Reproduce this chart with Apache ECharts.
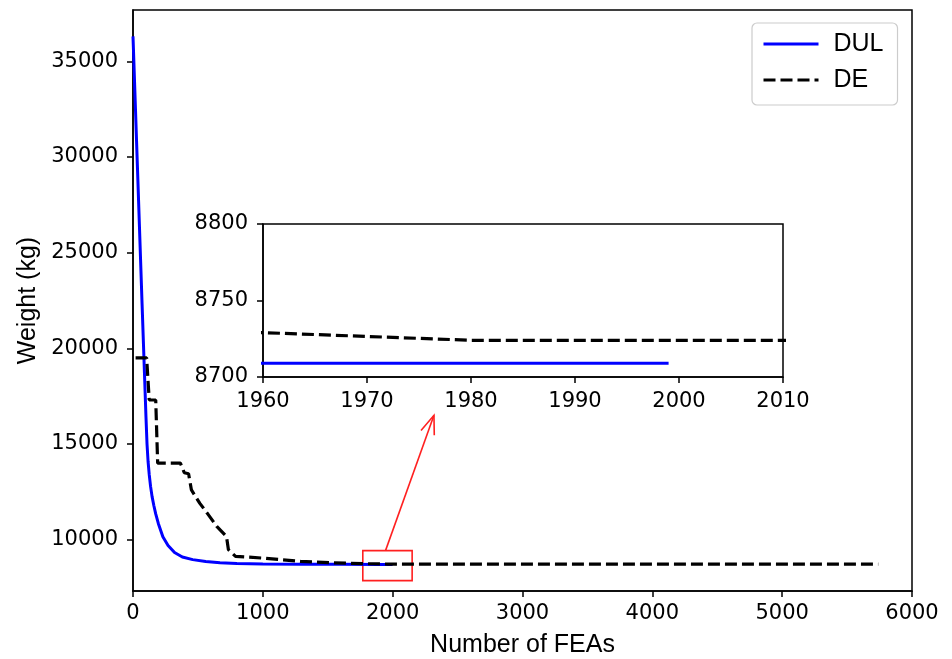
<!DOCTYPE html>
<html>
<head>
<meta charset="utf-8">
<script src="https://cdn.jsdelivr.net/npm/echarts@6/dist/echarts.min.js"></script>
<style>
  html, body { margin: 0; padding: 0; background: #fff; }
  #chart { width: 952px; height: 659px; }
</style>
</head>
<body>
<div id="chart"></div>
<script>
// Convergence history: best weight found vs. number of finite element analyses
const FEA_DUL = [0, 35, 70, 100, 108, 116, 125, 135, 147, 160, 175, 195, 230, 270, 320, 380, 460, 560, 670, 800, 1000, 1300, 1600, 1900, 1999];
const W_DUL   = [36300, 29300, 22300, 16400, 15000, 14100, 13400, 12800, 12250, 11800, 11350, 10850, 10150, 9700, 9330, 9100, 8960, 8860, 8800, 8760, 8730, 8718, 8712, 8709, 8709];

const FEA_DE = [20, 105, 125, 175, 190, 365, 395, 428, 450, 515, 570, 645, 720, 735, 790, 1000, 1290, 1540, 1800, 1960, 1970, 1980, 5740];
const W_DE   = [19500, 19500, 17300, 17300, 14000, 14000, 13500, 13450, 12600, 11900, 11400, 10700, 10170, 9480, 9130, 9040, 8870, 8790, 8745, 8729, 8726.5, 8724, 8724];

// Axis ranges and ticks
const X_RANGE = [0, 6000];
const Y_RANGE = [7320, 37680];
const Y_TICKS = [10000, 15000, 20000, 25000, 30000, 35000];
const INSET_X = [1960, 2010];
const INSET_Y = [8700, 8800];

// Zoomed window marker and the arrow pointing to the inset (data units)
const ZOOM_BOX_X = [1770, 2150];
const ZOOM_BOX_Y = [7860, 9430];
const ARROW_FROM = [1945, 9430];
const ARROW_TO   = [2318, 16500];

const pairs = (xs, ys) => xs.map((x, i) => [x, ys[i]]);
const plain = v => String(v);

const TICK_FONT = { fontFamily: 'DejaVu Sans', fontSize: 21, color: '#000', formatter: plain };
const NAME_FONT = { fontFamily: 'Liberation Sans', fontSize: 25, color: '#000' };
const AXIS_LINE = { show: true, onZero: false, lineStyle: { color: '#000', width: 1.5 } };
const AXIS_TICK = { show: true, inside: false, length: 6, lineStyle: { color: '#000', width: 1.5 } };

const chart = echarts.init(document.getElementById('chart'), null, { renderer: 'canvas' });

const option = {
  animation: false,
  backgroundColor: '#fff',
  grid: [
    { left: 133, top: 10, width: 779, height: 581, show: true, borderColor: '#000', borderWidth: 1.5, backgroundColor: '#fff', containLabel: false, outerBoundsMode: 'none' },
    { left: 263, top: 224, width: 520, height: 153, show: true, borderColor: '#000', borderWidth: 1.5, backgroundColor: '#fff', containLabel: false, outerBoundsMode: 'none', z: 5 }
  ],
  legend: {
    orient: 'vertical',
    left: 752, top: 23,
    padding: [7, 14, 11, 10],
    itemWidth: 55, itemHeight: 14, itemGap: 8,
    backgroundColor: 'rgba(255,255,255,0.8)',
    borderColor: '#cccccc', borderWidth: 1.2, borderRadius: 5,
    itemStyle: { opacity: 0 },
    lineStyle: { width: 3 },
    textStyle: Object.assign({ lineHeight: 28, padding: [0, 0, 0, 10] }, NAME_FONT),
    data: ['DUL', 'DE']
  },
  xAxis: [
    {
      gridIndex: 0, type: 'value', min: X_RANGE[0], max: X_RANGE[1], interval: 1000,
      name: 'Number of FEAs', nameLocation: 'middle', nameGap: 42, nameTextStyle: NAME_FONT,
      axisLine: AXIS_LINE, axisTick: AXIS_TICK, splitLine: { show: false },
      axisLabel: Object.assign({ margin: 12 }, TICK_FONT)
    },
    {
      gridIndex: 1, type: 'value', min: INSET_X[0], max: INSET_X[1], interval: 10,
      axisLine: AXIS_LINE, axisTick: AXIS_TICK, splitLine: { show: false },
      axisLabel: Object.assign({ margin: 14 }, TICK_FONT), z: 6
    }
  ],
  yAxis: [
    {
      gridIndex: 0, type: 'value', min: Y_RANGE[0], max: Y_RANGE[1],
      name: 'Weight (kg)', nameLocation: 'middle', nameGap: 92, nameTextStyle: NAME_FONT,
      axisLine: AXIS_LINE,
      axisTick: Object.assign({ customValues: Y_TICKS }, AXIS_TICK),
      splitLine: { show: false },
      axisLabel: Object.assign({ margin: 15, customValues: Y_TICKS }, TICK_FONT)
    },
    {
      gridIndex: 1, type: 'value', min: INSET_Y[0], max: INSET_Y[1], interval: 50,
      axisLine: AXIS_LINE, axisTick: AXIS_TICK, splitLine: { show: false },
      axisLabel: Object.assign({ margin: 15 }, TICK_FONT), z: 6
    }
  ],
  series: [
    {
      name: 'DUL', type: 'line', xAxisIndex: 0, yAxisIndex: 0, symbol: 'none', smooth: false,
      lineStyle: { color: '#0000ff', width: 3 }, itemStyle: { color: '#0000ff' },
      data: pairs(FEA_DUL, W_DUL), z: 3
    },
    {
      name: 'DE', type: 'line', xAxisIndex: 0, yAxisIndex: 0, symbol: 'none',
      lineStyle: { color: '#000', width: 3.2, type: [12, 5] }, itemStyle: { color: '#000' },
      data: pairs(FEA_DE, W_DE), z: 4,
      markArea: {
        silent: true,
        itemStyle: { color: 'rgba(0,0,0,0)', borderColor: '#ff2020', borderWidth: 1.6 },
        data: [[{ coord: [ZOOM_BOX_X[0], ZOOM_BOX_Y[1]] }, { coord: [ZOOM_BOX_X[1], ZOOM_BOX_Y[0]] }]]
      }
    },
    {
      name: 'DUL', type: 'line', xAxisIndex: 1, yAxisIndex: 1, symbol: 'none', clip: true,
      lineStyle: { color: '#0000ff', width: 3 }, itemStyle: { color: '#0000ff' },
      data: pairs(FEA_DUL, W_DUL), z: 7
    },
    {
      name: 'DE', type: 'line', xAxisIndex: 1, yAxisIndex: 1, symbol: 'none', clip: true,
      lineStyle: { color: '#000', width: 3.2, type: [12, 5] }, itemStyle: { color: '#000' },
      data: pairs(FEA_DE, W_DE), z: 7
    }
  ]
};

chart.setOption(option);

// Arrow from the zoom window up to the inset, placed through the main axes
function drawArrow() {
  const p0 = chart.convertToPixel({ gridIndex: 0 }, ARROW_FROM);
  const p1 = chart.convertToPixel({ gridIndex: 0 }, ARROW_TO);
  const ang = Math.atan2(p0[1] - p1[1], p0[0] - p1[0]);
  const len = 20, spread = 0.36;
  const a1 = [p1[0] + len * Math.cos(ang + spread), p1[1] + len * Math.sin(ang + spread)];
  const a2 = [p1[0] + len * Math.cos(ang - spread), p1[1] + len * Math.sin(ang - spread)];
  const style = { stroke: '#ff2020', lineWidth: 1.6, fill: null };
  chart.setOption({
    graphic: [
      { type: 'polyline', id: 'arrowShaft', shape: { points: [p0, p1] }, style: style, z: 20 },
      { type: 'polyline', id: 'arrowHead', shape: { points: [a1, p1, a2] }, style: style, z: 20 }
    ]
  });
}
drawArrow();
</script>
</body>
</html>
